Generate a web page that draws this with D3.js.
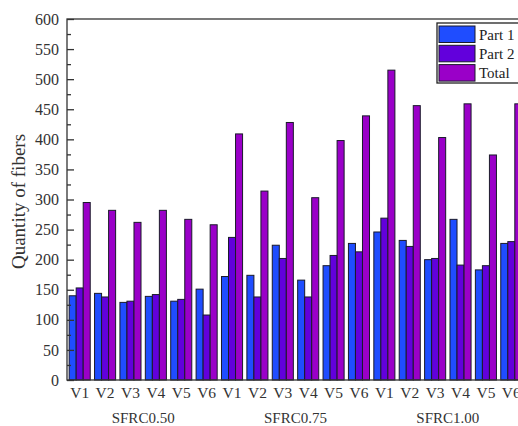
<!DOCTYPE html>
<html lang="en">
<head>
<meta charset="UTF-8">
<title>Quantity of fibers</title>
<script src="https://d3js.org/d3.v7.min.js"></script>
<style>
    body { margin: 0; background: #fff; }
    svg { display: block; font-family: "Liberation Serif", "DejaVu Serif", serif; }
</style>
</head>
<body>
<div id="chart"></div>
<script>
    // Data
    const groups = ["SFRC0.50", "SFRC0.75", "SFRC1.00"];
    const specimens = ["V1", "V2", "V3", "V4", "V5", "V6"];
    const seriesNames = ["Part 1", "Part 2", "Total"];
    const part1 = [140, 144, 129, 139, 131, 151, 172, 174, 224, 166, 190, 227, 246, 232, 200, 267, 183, 227];
    const part2 = [153, 138, 131, 142, 134, 108, 237, 138, 202, 138, 207, 213, 269, 222, 202, 191, 190, 230];
    const total = [295, 282, 262, 282, 267, 258, 409, 314, 428, 303, 398, 439, 515, 456, 403, 459, 374, 459];
    const yTicks = [0, 50, 100, 150, 200, 250, 300, 350, 400, 450, 500, 550, 600];

    const colors = ["#1f4dff", "#6200dc", "#9a00c8"];

    const width = 518, height = 426;
    const margin = { left: 67, top: 19, bottom: 46 };
    const plotW = 457;
    const plotH = height - margin.top - margin.bottom;

    const rows = [];
    groups.forEach((g, gi) => specimens.forEach((s, si) => {
        const i = gi * specimens.length + si;
        rows.push({ key: g + "-" + s, group: g, label: s, values: [part1[i], part2[i], total[i]] });
    }));

    const svg = d3.select("#chart").append("svg")
        .attr("width", width)
        .attr("height", height);

    const g = svg.append("g").attr("transform", `translate(${margin.left},${margin.top})`);

    const x0 = d3.scaleBand()
        .domain(rows.map(d => d.key))
        .range([0, plotW])
        .paddingInner(0.17)
        .paddingOuter(0.085);

    const x1 = d3.scaleBand()
        .domain(d3.range(3))
        .range([0, x0.bandwidth()]);

    const y = d3.scaleLinear().domain([0, 600]).range([plotH, 0]);

    // bars
    g.append("g")
        .selectAll("g")
        .data(rows)
        .join("g")
        .attr("transform", d => `translate(${x0(d.key)},0)`)
        .selectAll("rect")
        .data(d => d.values.map((v, k) => ({ v, k })))
        .join("rect")
        .attr("x", d => x1(d.k))
        .attr("y", d => y(d.v))
        .attr("width", x1.bandwidth())
        .attr("height", d => plotH - y(d.v))
        .attr("fill", d => colors[d.k])
        .attr("stroke", "#1a1a2a")
        .attr("stroke-width", 1);

    // frame
    g.append("rect")
        .attr("width", plotW)
        .attr("height", plotH)
        .attr("fill", "none")
        .attr("stroke", "#333")
        .attr("stroke-width", 1.3);

    // y axis, ticks pointing inward
    const yAxis = g.append("g")
        .call(d3.axisRight(y).tickValues(yTicks).tickSize(7).tickFormat(""));
    yAxis.select(".domain").remove();
    yAxis.selectAll("line").attr("stroke", "#333").attr("stroke-width", 1.3);

    g.append("g")
        .call(d3.axisRight(y).tickValues(d3.range(25, 600, 50)).tickSize(4).tickFormat(""))
        .call(a => a.select(".domain").remove())
        .selectAll("line").attr("stroke", "#333").attr("stroke-width", 1.3);

    g.append("g")
        .selectAll("text")
        .data(yTicks)
        .join("text")
        .attr("x", -8)
        .attr("y", d => y(d))
        .attr("dy", "0.35em")
        .attr("text-anchor", "end")
        .attr("font-size", 16)
        .attr("fill", "#333")
        .text(d => d);

    // x tick labels
    g.append("g")
        .selectAll("text")
        .data(rows)
        .join("text")
        .attr("x", d => x0(d.key) + x0.bandwidth() / 2)
        .attr("y", plotH + 18)
        .attr("text-anchor", "middle")
        .attr("font-size", 15.5)
        .attr("fill", "#333")
        .text(d => d.label);

    // group labels
    g.append("g")
        .selectAll("text")
        .data(groups)
        .join("text")
        .attr("x", (d, i) => (x0(rows[i * 6].key) + x0(rows[i * 6 + 5].key) + x0.bandwidth()) / 2)
        .attr("y", plotH + 43)
        .attr("text-anchor", "middle")
        .attr("font-size", 15)
        .attr("fill", "#333")
        .text(d => d);

    // y label
    svg.append("text")
        .attr("transform", `translate(25,${margin.top + plotH / 2 + 2}) rotate(-90)`)
        .attr("text-anchor", "middle")
        .attr("font-size", 19)
        .attr("fill", "#333")
        .text("Quantity of fibers");

    // legend
    const legend = svg.append("g").attr("transform", "translate(437,23)");
    legend.append("rect")
        .attr("width", 90)
        .attr("height", 60)
        .attr("fill", "#fff")
        .attr("stroke", "#222")
        .attr("stroke-width", 1.3);
    const item = legend.selectAll("g")
        .data(seriesNames)
        .join("g")
        .attr("transform", (d, i) => `translate(2,${3 + i * 19.3})`);
    item.append("rect")
        .attr("width", 36)
        .attr("height", 16.5)
        .attr("fill", (d, i) => colors[i])
        .attr("stroke", "#1a1a2a");
    item.append("text")
        .attr("x", 40)
        .attr("y", 8.5)
        .attr("dy", "0.35em")
        .attr("font-size", 15)
        .attr("fill", "#222")
        .text(d => d);
</script>
</body>
</html>
